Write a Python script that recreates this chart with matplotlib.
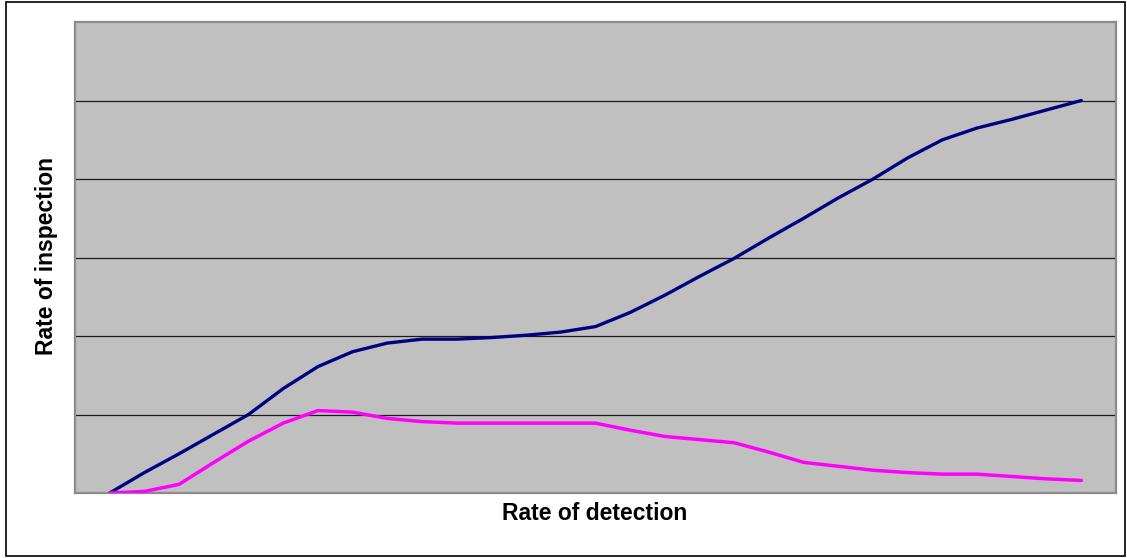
import matplotlib
matplotlib.use("Agg")
from matplotlib import pyplot as plt
from matplotlib.patches import Rectangle

# values (gridline step = 10)
positions = list(range(29))
inspection_blue = [0, 2.6, 5.0, 7.5, 10.0, 13.3, 16.1, 18.0, 19.1, 19.6,
                   19.6, 19.8, 20.1, 20.5, 21.2, 23.0, 25.2, 27.6, 29.9, 32.5,
                   35.0, 37.6, 40.0, 42.7, 45.0, 46.5, 47.6, 48.8, 50.0]
inspection_pink = [0, 0.2, 1.1, 3.9, 6.6, 8.9, 10.5, 10.3, 9.5, 9.1,
                   8.9, 8.9, 8.9, 8.9, 8.9, 8.0, 7.2, 6.8, 6.4, 5.2,
                   3.9, 3.4, 2.9, 2.6, 2.4, 2.4, 2.1, 1.8, 1.6]
grid_levels = [10, 20, 30, 40, 50]

plt.rcParams['font.family'] = ['Liberation Sans', 'DejaVu Sans']

fig = plt.figure(figsize=(11.27, 5.58), dpi=100)
ax = fig.add_axes([75 / 1127, 1 - 493 / 558, 1041 / 1127, 471 / 558])
ax.set_facecolor('#C0C0C0')

for lvl in grid_levels:
    ax.axhline(lvl, color='#1a1a1a', lw=0.9, zorder=1)

ax.plot(positions, inspection_blue, color='#000080', lw=2.4, zorder=3,
        solid_joinstyle='round', solid_capstyle='round')
ax.plot(positions, inspection_pink, color='#FF00FF', lw=2.5, zorder=3,
        solid_joinstyle='round', solid_capstyle='round')

ax.set_xlim(-1, 29)
ax.set_ylim(0, 60)
ax.set_xticks([])
ax.set_yticks([])
for sp in ax.spines.values():
    sp.set_color('#8c8c8c')
    sp.set_linewidth(1.6)

fig.text(595 / 1127, 1 - 513 / 558, 'Rate of detection', ha='center', va='center',
         fontsize=16.5, fontweight='bold')
fig.text(47 / 1127, 1 - 256 / 558, 'Rate of inspection', ha='center', va='center',
         rotation=90, fontsize=16.5, fontweight='bold')

# outer frame of the chart
fig.patches.append(Rectangle((5.5 / 1127, 2 / 558), 1119.5 / 1127, 554.5 / 558,
                             transform=fig.transFigure, fill=False,
                             edgecolor='black', lw=1.2))

fig.savefig('out.png', dpi=100)
